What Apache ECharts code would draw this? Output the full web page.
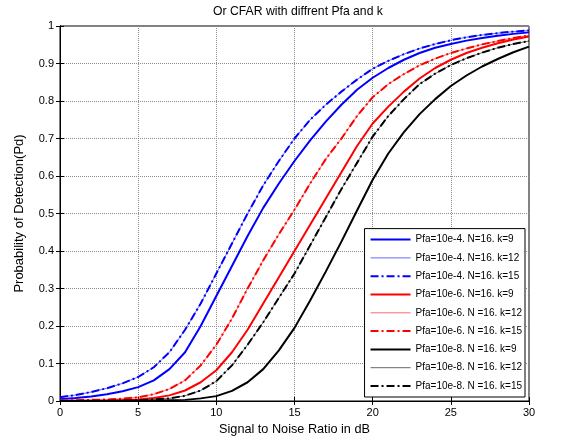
<!DOCTYPE html>
<html>
<head>
<meta charset="utf-8">
<script src="https://cdn.jsdelivr.net/npm/echarts@6/dist/echarts.min.js"></script>
<style>
html,body{margin:0;padding:0;background:#fff;}
#main{width:572px;height:444px;}
</style>
</head>
<body>
<div id="main"></div>
<script>
// SNR in dB
var snr=[0,1,2,3,4,5,6,7,8,9,10,11,12,13,14,15,16,17,18,19,20,21,22,23,24,25,26,27,28,29,30];

// Pfa=10e-4
var pd4k9 =[0.005,0.008,0.012,0.018,0.026,0.037,0.055,0.085,0.13,0.20,0.28,0.36,0.44,0.515,0.58,0.64,0.695,0.745,0.79,0.83,0.862,0.888,0.91,0.928,0.942,0.952,0.961,0.968,0.974,0.979,0.983];
var pd4k12=[0.010,0.016,0.024,0.034,0.047,0.064,0.09,0.13,0.19,0.26,0.34,0.42,0.50,0.575,0.64,0.70,0.75,0.79,0.825,0.857,0.886,0.907,0.925,0.94,0.952,0.962,0.970,0.976,0.981,0.985,0.988];
var pd4k15=[0.010,0.016,0.024,0.034,0.047,0.064,0.09,0.13,0.19,0.26,0.34,0.42,0.50,0.575,0.64,0.70,0.75,0.79,0.825,0.857,0.886,0.907,0.925,0.94,0.952,0.962,0.970,0.976,0.981,0.985,0.988];
// Pfa=10e-6
var pd6k9 =[0.0005,0.0008,0.001,0.0015,0.0025,0.004,0.008,0.015,0.028,0.05,0.082,0.13,0.19,0.26,0.33,0.40,0.47,0.54,0.61,0.68,0.74,0.785,0.825,0.86,0.888,0.91,0.928,0.942,0.954,0.964,0.972];
var pd6k12=[0.001,0.002,0.003,0.004,0.006,0.010,0.018,0.032,0.055,0.095,0.15,0.22,0.30,0.375,0.445,0.51,0.58,0.645,0.70,0.76,0.81,0.845,0.872,0.895,0.913,0.928,0.94,0.951,0.96,0.968,0.975];
var pd6k15=[0.001,0.002,0.003,0.004,0.006,0.010,0.018,0.032,0.055,0.095,0.15,0.22,0.30,0.375,0.445,0.51,0.58,0.645,0.70,0.76,0.81,0.845,0.872,0.895,0.913,0.928,0.94,0.951,0.96,0.968,0.975];
// Pfa=10e-8
var pd8k9 =[0,0,0,0,0.0005,0.001,0.001,0.002,0.003,0.007,0.013,0.027,0.05,0.085,0.135,0.195,0.268,0.345,0.425,0.508,0.59,0.66,0.717,0.765,0.805,0.84,0.868,0.892,0.912,0.93,0.945];
var pd8k12=[0.0002,0.0003,0.0005,0.0008,0.001,0.002,0.004,0.007,0.014,0.028,0.053,0.095,0.15,0.21,0.275,0.34,0.415,0.49,0.565,0.635,0.705,0.76,0.805,0.845,0.873,0.896,0.914,0.929,0.942,0.952,0.96];
var pd8k15=[0.0002,0.0003,0.0005,0.0008,0.001,0.002,0.004,0.007,0.014,0.028,0.053,0.095,0.15,0.21,0.275,0.34,0.415,0.49,0.565,0.635,0.705,0.76,0.805,0.845,0.873,0.896,0.914,0.929,0.942,0.952,0.96];

var names=['Pfa=10e-4. N=16. k=9','Pfa=10e-4. N=16. k=12','Pfa=10e-4. N=16. k=15',
           'Pfa=10e-6. N=16. k=9','Pfa=10e-6. N =16. k=12','Pfa=10e-6. N =16. k=15',
           'Pfa=10e-8. N =16. k=9','Pfa=10e-8. N =16. k=12','Pfa=10e-8. N =16. k=15'];

function pairs(ys){
    var out=[];
    for(var i=0;i<snr.length;i++){
        out.push([snr[i],ys[i]]);
    }
    return out;
}

var dashDot=[8,3,2,3];
var FONT='Liberation Sans';

// 每条曲线的样式
var styles=[
    {color:'#0000ff',width:2,type:'solid'},
    {color:'#0000ff',width:0.6,type:'solid'},
    {color:'#0000ff',width:2,type:dashDot},
    {color:'#ff0000',width:2,type:'solid'},
    {color:'#ff0000',width:0.6,type:'solid'},
    {color:'#ff0000',width:2,type:dashDot},
    {color:'#000000',width:2,type:'solid'},
    {color:'#000000',width:0.6,type:'solid'},
    {color:'#000000',width:2,type:dashDot}
];
var allData=[pd4k9,pd4k12,pd4k15,pd6k9,pd6k12,pd6k15,pd8k9,pd8k12,pd8k15];

var series=[];
var legendData=[];
for(var i=0;i<names.length;i++){
    var s=styles[i];
    series.push({
        name:names[i],
        type:'line',
        data:pairs(allData[i]),
        symbol:'none',
        lineStyle:{color:s.color,width:s.width,type:s.type},
        itemStyle:{color:s.color},
        z:2
    });
    legendData.push({
        name:names[i],
        itemStyle:{opacity:0},
        lineStyle:{color:s.color,width:s.width,type:s.type}
    });
}

var myChart=echarts.init(document.getElementById('main'),null,{renderer:'canvas'});

var gridLine={show:true,lineStyle:{color:'#8c8c8c',type:[1,1],width:1}};

var option={
    animation:false,
    backgroundColor:'#fff',
    textStyle:{fontFamily:FONT},
    title:{
        text:'Or CFAR with diffrent Pfa and k',
        left:293,
        textAlign:'center',
        top:1,
        textStyle:{fontFamily:FONT,fontSize:12.2,fontWeight:'normal',color:'#000'}
    },
    grid:{left:60,right:43,top:26,bottom:43,show:true,borderColor:'#000',borderWidth:1,backgroundColor:'transparent'},
    legend:{
        orient:'vertical',
        right:47,
        bottom:47,
        backgroundColor:'#fff',
        borderColor:'#000',
        borderWidth:1,
        padding:[6,3,6,5],
        itemWidth:40,
        itemHeight:10,
        itemGap:8.3,
        textStyle:{fontFamily:FONT,fontSize:10,color:'#000'},
        data:legendData
    },
    xAxis:[{
        type:'value',min:0,max:30,interval:5,
        name:'Signal to Noise Ratio in dB',
        nameLocation:'middle',nameGap:21,
        nameTextStyle:{fontFamily:FONT,fontSize:12.7,color:'#000'},
        axisLine:{show:true,onZero:false,lineStyle:{color:'#000'}},
        axisTick:{show:true,inside:true,length:4,lineStyle:{color:'#000'}},
        axisLabel:{fontFamily:FONT,fontSize:11,color:'#000',margin:6},
        splitLine:gridLine
    },{
        type:'value',min:0,max:30,interval:5,position:'top',
        axisLine:{show:true,lineStyle:{color:'#000'}},
        axisTick:{show:true,inside:true,length:4,lineStyle:{color:'#000'}},
        axisLabel:{show:false},splitLine:{show:false}
    }],
    yAxis:[{
        type:'value',min:0,max:1,interval:0.1,
        name:'Probability of Detection(Pd)',
        nameLocation:'middle',nameGap:34,
        nameTextStyle:{fontFamily:FONT,fontSize:13,color:'#000'},
        axisLine:{show:true,lineStyle:{color:'#000'}},
        axisTick:{show:true,inside:true,length:4,lineStyle:{color:'#000'}},
        axisLabel:{fontFamily:FONT,fontSize:11,color:'#000',margin:6,
            formatter:function(v){return String(Math.round(v*10)/10);}},
        splitLine:gridLine
    },{
        type:'value',min:0,max:1,interval:0.1,position:'right',
        axisLine:{show:true,lineStyle:{color:'#000'}},
        axisTick:{show:true,inside:true,length:4,lineStyle:{color:'#000'}},
        axisLabel:{show:false},splitLine:{show:false}
    }],
    series:series
};

myChart.setOption(option);
</script>
</body>
</html>
